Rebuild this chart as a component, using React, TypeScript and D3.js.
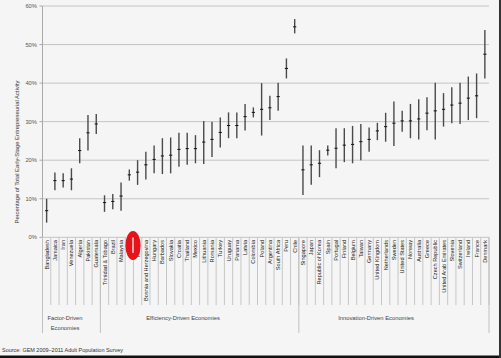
import React from "react";
import * as d3 from "d3";

const countries = [
  "Bangladesh", "Jamaica", "Iran", "Venezuela", "Algeria", "Pakistan", "Guatemala",
  "Trinidad & Tobago", "Brazil", "Malaysia", "China", "Russia", "Bosnia and Herzegovina",
  "Hungary", "Barbados", "Slovakia", "Croatia", "Thailand", "Mexico", "Lithuania", "Romania",
  "Turkey", "Uruguay", "Panama", "Latvia", "Colombia", "Poland", "Argentina", "South Africa",
  "Peru", "Chile",
  "Singapore", "Japan", "Republic of Korea", "Spain", "Portugal", "Finland", "Belgium",
  "Taiwan", "Germany", "United Kingdom", "Netherlands", "Sweden", "United States", "Norway",
  "Australia", "Greece", "Czech Republic", "United Arab Emirates", "Slovenia", "Switzerland",
  "Ireland", "France", "Denmark",
];

const centerValues = [
  6.9, 14.7, 14.7, 15.1, 22.5, 27.1, 29.4,
  9.0, 9.3, 10.7, 16.2, 16.9, 18.8, 20.2, 21.1, 21.3, 22.8, 23.0, 23.0, 24.7, 25.4,
  27.2, 29.0, 29.0, 31.3, 32.4, 33.2, 33.6, 36.5, 43.8, 54.6,
  17.5, 18.8, 19.2, 22.6, 23.1, 23.9, 24.1, 24.8, 25.4, 27.6, 28.7, 29.6, 30.2, 30.2,
  30.7, 32.2, 32.8, 33.2, 34.3, 34.8, 36.1, 36.7, 47.5,
];

const lowValues = [
  3.8, 12.2, 12.9, 12.2, 19.2, 22.5, 26.8,
  6.6, 7.3, 6.9, 14.7, 13.6, 15.0, 16.6, 16.4, 16.6, 18.3, 18.8, 19.2, 19.0, 20.8,
  23.3, 25.7, 25.7, 27.7, 31.1, 26.4, 30.4, 32.8, 41.2, 52.9,
  11.0, 13.6, 15.6, 21.2, 17.9, 19.5, 19.2, 20.0, 22.2, 25.2, 24.8, 23.7, 27.4, 25.7,
  25.4, 27.8, 25.4, 28.7, 29.6, 29.4, 30.4, 30.9, 41.2,
];

const highValues = [
  10.0, 16.8, 16.6, 17.9, 25.7, 31.7, 32.0,
  10.9, 11.2, 14.2, 17.6, 20.0, 22.2, 23.8, 25.7, 25.9, 27.1, 27.1, 26.5, 30.2, 30.0,
  31.1, 32.4, 32.4, 34.6, 33.7, 40.0, 36.7, 40.1, 46.4, 56.6,
  23.8, 23.8, 22.6, 23.8, 28.3, 28.3, 28.9, 29.4, 28.5, 29.7, 32.3, 35.2, 32.8, 34.6,
  35.8, 36.3, 40.1, 37.4, 38.9, 40.1, 41.7, 42.5, 53.8,
];

const groupNames = ["Factor-Driven Economies", "Efficiency-Driven Economies", "Innovation-Driven Economies"];
const groupSizes = [7, 24, 23];
const yTicks = [0, 10, 20, 30, 40, 50, 60];

const W = 501;
const H = 358;
const left = 42.5;
const right = 489;
const top = 6;
const bottom = 237.3;
const FONT = "'Liberation Sans', Arial, sans-serif";

export default function App() {
  const x = d3.scaleBand<string>().domain(countries).range([left, right]).padding(0);
  const y = d3.scaleLinear().domain([0, 60]).range([bottom, top]);
  const bw = x.bandwidth();

  const bounds: number[] = [0];
  groupSizes.forEach((s) => bounds.push(bounds[bounds.length - 1] + s));
  const boundX = bounds.map((b) => left + b * bw);

  const groupLabelPos = [
    { x: 65, lines: ["Factor-Driven", "Economies"] },
    { x: 183, lines: [groupNames[1]] },
    { x: 376, lines: [groupNames[2]] },
  ];

  return (
    <svg width={W} height={H} style={{ position: "absolute", left: 0, top: 0, display: "block" }}>
      <rect x={0} y={0} width={W} height={H} fill="#f5f5f5" />
      {yTicks.map((t) => (
        <line key={"g" + t} x1={left} x2={right} y1={y(t)} y2={y(t)} stroke="#c4c4c4" strokeWidth={1} />
      ))}
      <line x1={left} x2={left} y1={top} y2={bottom} stroke="#a8a8a8" strokeWidth={1} />
      {yTicks.map((t) => (
        <g key={"t" + t}>
          <line x1={left - 3} x2={left} y1={y(t)} y2={y(t)} stroke="#a8a8a8" />
          <text x={37} y={y(t) + 2} textAnchor="end" fontSize={5.8} fill="#555" fontFamily={FONT}>
            {t + "%"}
          </text>
        </g>
      ))}
      <text
        transform={`translate(18.5,152) rotate(-90)`}
        textAnchor="middle"
        fontSize={5.8}
        fill="#333"
        fontFamily={FONT}
        textLength={143}
        lengthAdjust="spacingAndGlyphs"
      >
        Percentage of Total Early-Stage Entrepreneurial Activity
      </text>
      {countries.map((c, i) => (
        <line key={"s" + c} x1={left + i * bw} x2={left + i * bw} y1={bottom} y2={305} stroke="#c6c6c6" />
      ))}
      <line x1={right} x2={right} y1={bottom} y2={305} stroke="#c6c6c6" />
      {boundX.map((bx, i) => (
        <line key={"b" + i} x1={bx} x2={bx} y1={bottom} y2={333} stroke="#c0c0c0" />
      ))}
      {countries.map((c) => {
        const cx = (x(c) as number) + bw / 2 + 2;
        return (
          <text
            key={"l" + c}
            transform={`translate(${cx},240) rotate(-90)`}
            textAnchor="end"
            fontSize={5.6}
            fill="#222"
            fontFamily={FONT}
          >
            {c}
          </text>
        );
      })}
      {groupLabelPos.map((g, i) =>
        g.lines.map((ln, j) => (
          <text
            key={"gl" + i + j}
            x={g.x}
            y={319.5 + j * 10.5}
            textAnchor="middle"
            fontSize={5.8}
            fill="#444"
            fontFamily={FONT}
          >
            {ln}
          </text>
        ))
      )}
      {countries.map((c, i) => {
        const cx = (x(c) as number) + bw / 2;
        return (
          <g key={"e" + c}>
            <line x1={cx} x2={cx} y1={y(highValues[i])} y2={y(lowValues[i])} stroke="#4a4a4a" strokeWidth={1.4} />
            <line x1={cx - 1.6} x2={cx + 1.6} y1={y(centerValues[i])} y2={y(centerValues[i])} stroke="#111" strokeWidth={1} />
          </g>
        );
      })}
      <ellipse cx={133} cy={245.5} rx={7.6} ry={14.5} fill="#e3141b" />
      <line x1={133} x2={133} y1={237.5} y2={253} stroke="#ffffff" strokeWidth={1.2} />
      <text x={2} y={352} fontSize={5.8} fill="#333" fontFamily={FONT} textLength={121} lengthAdjust="spacingAndGlyphs">
        Source: GEM 2009–2011 Adult Population Survey
      </text>
      <rect x={0} y={355.5} width={W} height={2.5} fill="#111" />
      <rect x={499} y={0} width={2} height={H} fill="#333" />
    </svg>
  );
}
